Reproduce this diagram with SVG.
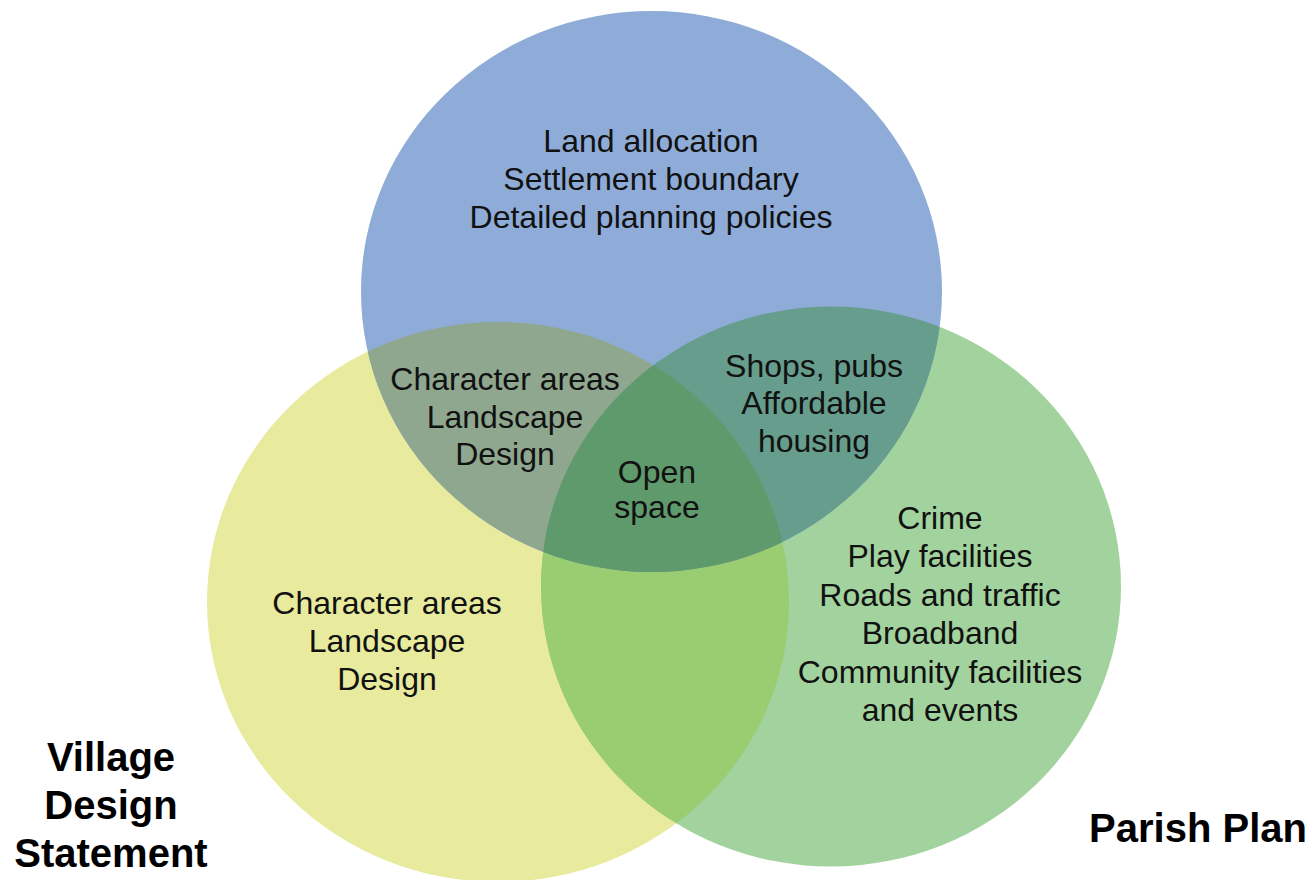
<svg xmlns="http://www.w3.org/2000/svg" xmlns:xlink="http://www.w3.org/1999/xlink" width="1314" height="880" viewBox="0 0 1314 880">
<style>
.t{font-family:"Liberation Sans",Arial,sans-serif;font-size:32px;fill:#111;text-anchor:middle}
.lbl{font-family:"Liberation Sans",Arial,sans-serif;font-size:40px;font-weight:bold;fill:#000;text-anchor:middle}
</style>
<defs>
<ellipse id="eB" cx="651.5" cy="291.5" rx="290.5" ry="280.5"/>
<ellipse id="eY" cx="498" cy="602" rx="291" ry="280"/>
<ellipse id="eG" cx="831" cy="586.5" rx="290" ry="280"/>
<clipPath id="cpB"><use xlink:href="#eB"/></clipPath>
<clipPath id="cpY"><use xlink:href="#eY"/></clipPath>
<clipPath id="cpG"><use xlink:href="#eG"/></clipPath>
</defs>
<rect width="1314" height="880" fill="#fff"/>
<g id="sets">
<use xlink:href="#eY" fill="#E8EB9E"/>
<use xlink:href="#eG" fill="#A2D39E"/>
<use xlink:href="#eB" fill="#8FACD8"/>
<use xlink:href="#eG" fill="#9ACC72" clip-path="url(#cpY)"/>
<use xlink:href="#eY" fill="#8FA78E" clip-path="url(#cpB)"/>
<use xlink:href="#eG" fill="#669D8C" clip-path="url(#cpB)"/>
<g clip-path="url(#cpB)"><use xlink:href="#eG" fill="#5F9A6C" clip-path="url(#cpY)"/></g>
</g>
<g id="neighbourhood-plan">
<text class="t" x="651" y="152">Land allocation</text>
<text class="t" x="651" y="190">Settlement boundary</text>
<text class="t" x="651" y="228">Detailed planning policies</text>
</g>
<g id="plan-vds-overlap">
<text class="t" x="505" y="390">Character areas</text>
<text class="t" x="505" y="428">Landscape</text>
<text class="t" x="505" y="465">Design</text>
</g>
<g id="plan-parish-overlap">
<text class="t" x="814" y="377">Shops, pubs</text>
<text class="t" x="814" y="414">Affordable</text>
<text class="t" x="814" y="452">housing</text>
</g>
<g id="all-overlap">
<text class="t" x="657" y="483">Open</text>
<text class="t" x="657" y="518">space</text>
</g>
<g id="village-design-statement">
<text class="t" x="387" y="614">Character areas</text>
<text class="t" x="387" y="652">Landscape</text>
<text class="t" x="387" y="690">Design</text>
<text class="lbl" x="111" y="771">Village</text>
<text class="lbl" x="111" y="819">Design</text>
<text class="lbl" x="111" y="867">Statement</text>
</g>
<g id="parish-plan">
<text class="t" x="940" y="529">Crime</text>
<text class="t" x="940" y="567">Play facilities</text>
<text class="t" x="940" y="606">Roads and traffic</text>
<text class="t" x="940" y="644">Broadband</text>
<text class="t" x="940" y="683">Community facilities</text>
<text class="t" x="940" y="721">and events</text>
<text class="lbl" x="1198" y="842">Parish Plan</text>
</g>
</svg>
